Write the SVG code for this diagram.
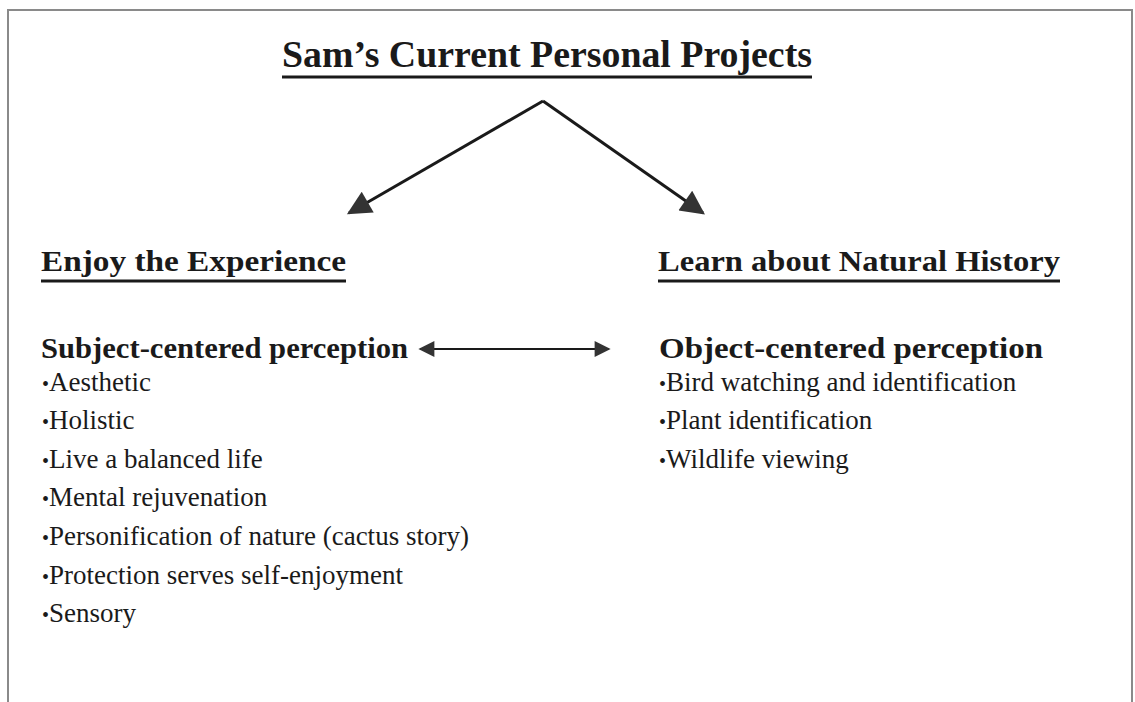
<svg xmlns="http://www.w3.org/2000/svg" width="1135" height="702" viewBox="0 0 1135 702">
<defs>
<style>
.t{font-family:"Liberation Serif","Times New Roman",serif;fill:#1a1a1a}
.title{font-size:37px;font-weight:bold}
.h{font-size:30px;font-weight:bold}
.item{font-size:27px}
.bul{font-size:20px}
.ul{stroke:#1a1a1a;stroke-width:3}
.conn{stroke:#1a1a1a;stroke-width:3;fill:none}
.conn2{stroke:#1a1a1a;stroke-width:2;fill:none}
</style>
<marker id="big" viewBox="0 0 10 10" refX="9" refY="5" markerWidth="26" markerHeight="24" markerUnits="userSpaceOnUse" orient="auto">
<path d="M0,0 L10,5 L0,10 z" fill="#333"/>
</marker>
<marker id="mid" viewBox="0 0 10 10" refX="9" refY="5" markerWidth="24" markerHeight="16" markerUnits="userSpaceOnUse" orient="auto-start-reverse">
<path d="M0,0 L10,5 L0,10 z" fill="#333"/>
</marker>
</defs>
<rect x="0" y="0" width="1135" height="702" fill="#ffffff"/>
<rect x="8" y="10" width="1124" height="720" fill="none" stroke="#8a8a8a" stroke-width="2"/>

<g id="title">
<text class="t title" x="282" y="67" textLength="530" lengthAdjust="spacingAndGlyphs">Sam’s Current Personal Projects</text>
<line class="ul" x1="282" y1="77" x2="812" y2="77"/>
</g>

<g id="connectors">
<line class="conn" x1="543" y1="101" x2="349" y2="213" marker-end="url(#big)"/>
<line class="conn" x1="543" y1="101" x2="703" y2="213" marker-end="url(#big)"/>
<line class="conn2" x1="420" y1="349" x2="609" y2="349" marker-start="url(#mid)" marker-end="url(#mid)"/>
</g>

<g id="enjoy">
<text class="t h" x="41" y="271" textLength="305" lengthAdjust="spacingAndGlyphs">Enjoy the Experience</text>
<line class="ul" x1="41" y1="281" x2="346" y2="281"/>
</g>

<g id="learn">
<text class="t h" x="658" y="271" textLength="402" lengthAdjust="spacingAndGlyphs">Learn about Natural History</text>
<line class="ul" x1="658" y1="281" x2="1060" y2="281"/>
</g>

<g id="subject">
<text class="t h" x="41" y="358" textLength="367" lengthAdjust="spacingAndGlyphs">Subject-centered perception</text>
<g class="t item">
<text x="42" y="391"><tspan class="bul">•</tspan>Aesthetic</text>
<text x="42" y="429"><tspan class="bul">•</tspan>Holistic</text>
<text x="42" y="468"><tspan class="bul">•</tspan>Live a balanced life</text>
<text x="42" y="506"><tspan class="bul">•</tspan>Mental rejuvenation</text>
<text x="42" y="545"><tspan class="bul">•</tspan>Personification of nature (cactus story)</text>
<text x="42" y="584"><tspan class="bul">•</tspan>Protection serves self-enjoyment</text>
<text x="42" y="622"><tspan class="bul">•</tspan>Sensory</text>
</g>
</g>

<g id="object">
<text class="t h" x="659" y="358" textLength="384" lengthAdjust="spacingAndGlyphs">Object-centered perception</text>
<g class="t item">
<text x="659" y="391"><tspan class="bul">•</tspan>Bird watching and identification</text>
<text x="659" y="429"><tspan class="bul">•</tspan>Plant identification</text>
<text x="659" y="468"><tspan class="bul">•</tspan>Wildlife viewing</text>
</g>
</g>
</svg>
